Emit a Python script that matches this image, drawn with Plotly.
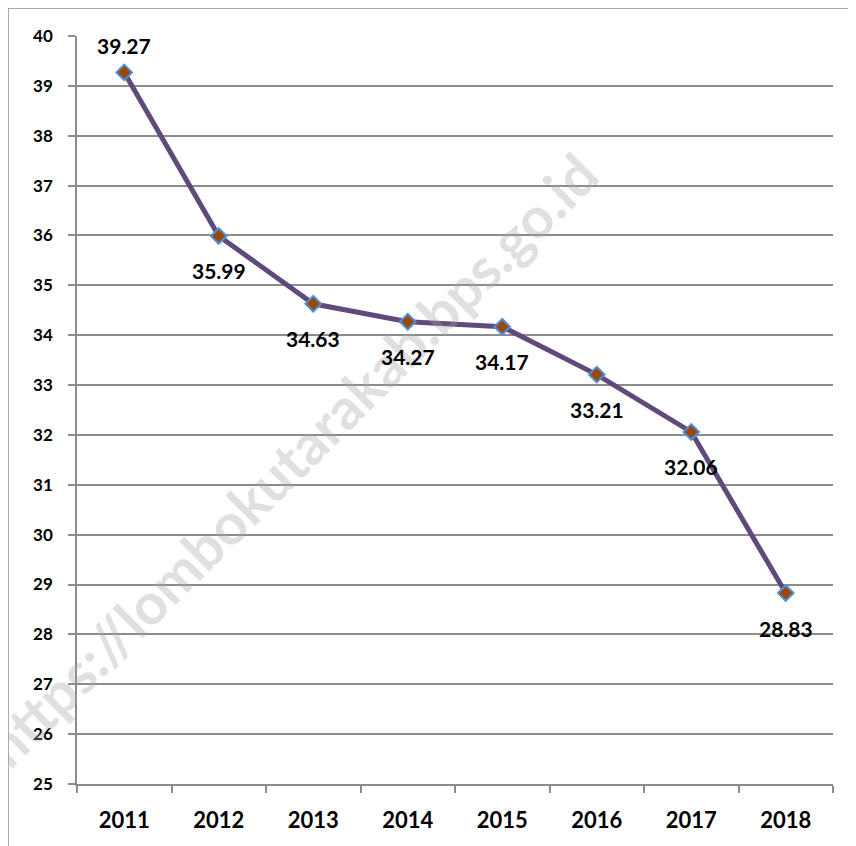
import plotly.graph_objects as go

# values
years = ["2011", "2012", "2013", "2014", "2015", "2016", "2017", "2018"]
values = [39.27, 35.99, 34.63, 34.27, 34.17, 33.21, 32.06, 28.83]
labels = ["39.27", "35.99", "34.63", "34.27", "34.17", "33.21", "32.06", "28.83"]
label_shift = [27, -35, -35, -35, -35, -35, -35, -35]

FONT = "Lato"
GRID = "#8c8c8c"

fig = go.Figure()
fig.add_trace(go.Scatter(
    x=years, y=values, mode="lines+markers",
    line=dict(color="#604a7b", width=5),
    marker=dict(symbol="diamond", size=12, color="#984807",
                line=dict(color="#4f8fd6", width=2)),
    hoverinfo="skip", showlegend=False,
))

# watermark first, so the data labels are drawn over it
fig.add_annotation(x=0.283, y=0.434, xref="paper", yref="paper",
                   xanchor="center", yanchor="middle",
                   text="https://lombokutarakab.bps.go.id", showarrow=False,
                   textangle=-45,
                   font=dict(family=FONT, size=57, color="rgba(165,165,165,0.35)",
                             weight="bold"))

# data labels; category index is used because "2011" etc. would be read as numbers
for i, (v, txt, dy) in enumerate(zip(values, labels, label_shift)):
    fig.add_annotation(x=i, y=v, text=txt, showarrow=False, yshift=dy,
                       font=dict(family=FONT, size=21, color="black", weight="bold"))

# outer chart frame (cut by the picture on right and bottom)
fig.add_shape(type="rect", xref="paper", yref="paper",
              x0=-0.0913, x1=1.2, y0=-0.3, y1=1.0374,
              line=dict(color=GRID, width=1.5), layer="below")

fig.update_layout(
    width=848, height=838,
    margin=dict(l=69, r=23, t=28, b=62),
    paper_bgcolor="white", plot_bgcolor="white",
    font=dict(family=FONT, color="black"),
)
fig.update_xaxes(
    type="category", range=[-0.5, 7.5], tickson="boundaries",
    ticks="outside", ticklen=7, tickcolor=GRID, tickwidth=1.5,
    showline=True, linecolor=GRID, linewidth=1.5, showgrid=False,
    tickfont=dict(family=FONT, size=22, weight="bold"), ticklabelstandoff=16,
)
fig.update_yaxes(
    range=[25, 40], dtick=1, ticks="outside", ticklen=7, tickcolor=GRID,
    tickwidth=1.5, showline=True, linecolor=GRID, linewidth=1.5,
    showgrid=True, gridcolor=GRID, gridwidth=1.5, zeroline=False,
    tickfont=dict(family=FONT, size=17, weight="bold"), ticklabelstandoff=12,
)

fig.write_html("out.html")
